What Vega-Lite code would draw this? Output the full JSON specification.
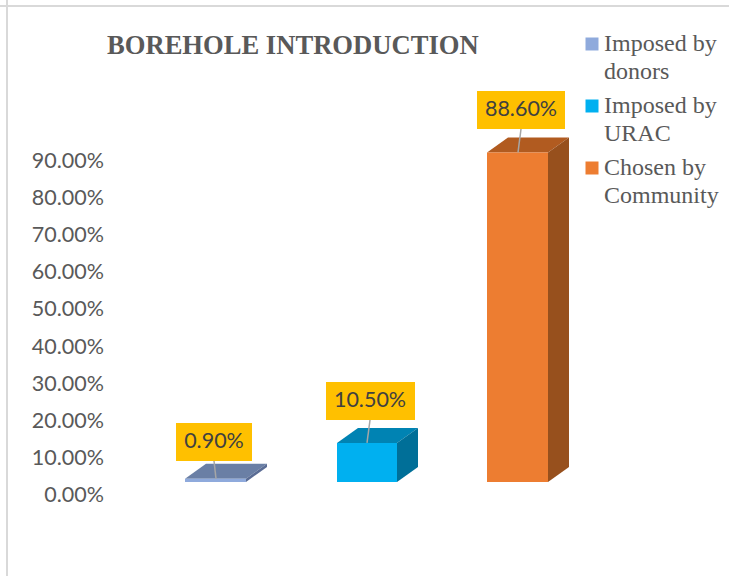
{
"$schema":"https://vega.github.io/schema/vega-lite/v6.json",
"width":729,"height":576,"autosize":{"type":"none"},"padding":0,"background":"white",
"title":{"text":"BOREHOLE INTRODUCTION","anchor":"start","frame":"group","dx":107,"offset":-82,"baseline":"alphabetic","font":"Liberation Serif","fontSize":26.6,"fontWeight":"bold","color":"#595959"},
"config":{"view":{"stroke":null},"style":{"guide-label":{"lineHeight":28}}},
"datasets":{
"bars":[
{"series":"Imposed by|donors","left":185,"right":246,"value":0.009,"boxLeft":176,"boxRight":252,"boxLow":0.0565,"boxHigh":0.1586,"boxMid":0.1075,"center":214,"lineFromX":214,"lineToX":216,"label":"0.90%"},
{"series":"Imposed by|URAC","left":337,"right":397,"value":0.105,"boxLeft":326,"boxRight":415,"boxLow":0.1667,"boxHigh":0.269,"boxMid":0.2178,"center":370,"lineFromX":370,"lineToX":367,"label":"10.50%"},
{"series":"Chosen by|Community","left":487,"right":548,"value":0.886,"boxLeft":477,"boxRight":565,"boxLow":0.949,"boxHigh":1.051,"boxMid":1.0,"center":521,"lineFromX":521,"lineToX":518,"label":"88.60%"}
],
"faces":[
{"face":"donors top","x":185,"low":0.009,"high":0.009},{"face":"donors top","x":206,"low":0.009,"high":0.0493},{"face":"donors top","x":246,"low":0.009,"high":0.0493},{"face":"donors top","x":267,"low":0.0493,"high":0.0493},
{"face":"donors side","x":246,"low":0,"high":0.009},{"face":"donors side","x":267,"low":0.0403,"high":0.0493},
{"face":"URAC top","x":337,"low":0.105,"high":0.105},{"face":"URAC top","x":358,"low":0.105,"high":0.1453},{"face":"URAC top","x":397,"low":0.105,"high":0.1453},{"face":"URAC top","x":418,"low":0.1453,"high":0.1453},
{"face":"URAC side","x":397,"low":0,"high":0.105},{"face":"URAC side","x":418,"low":0.0403,"high":0.1453},
{"face":"Community top","x":487,"low":0.886,"high":0.886},{"face":"Community top","x":508,"low":0.886,"high":0.9263},{"face":"Community top","x":548,"low":0.886,"high":0.9263},{"face":"Community top","x":569,"low":0.9263,"high":0.9263},
{"face":"Community side","x":548,"low":0,"high":0.886},{"face":"Community side","x":569,"low":0.0403,"high":0.9263}
]},
"data":{"name":"bars"},
"layer":[
{"mark":{"type":"rule","stroke":"#d9d9d9","strokeWidth":2},"data":{"values":[{"edge":7}]},"encoding":{"x":{"field":"edge","type":"quantitative","scale":{"domain":[0,729],"nice":false,"zero":false},"axis":null}}},
{"mark":{"type":"rule","stroke":"#d9d9d9","strokeWidth":2},"data":{"values":[{"edge":1.2796}]},"encoding":{"y":{"field":"edge","type":"quantitative"}}},
{"mark":{"type":"area","stroke":null},"data":{"name":"faces"},"encoding":{
"x":{"field":"x","type":"quantitative"},
"y":{"field":"low","type":"quantitative","stack":null},
"y2":{"field":"high"},
"fill":{"field":"face","type":"nominal","legend":null,"scale":{"domain":["donors top","donors side","URAC top","URAC side","Community top","Community side"],"range":["#6a7fa5","#5a6c94","#0083b3","#006f98","#b15b20","#97501d"]}}}},
{"mark":{"type":"bar"},"encoding":{
"x":{"field":"left","type":"quantitative"},
"x2":{"field":"right"},
"y":{"field":"value","type":"quantitative","stack":null,"scale":{"domain":[-0.2527,1.2957],"nice":false,"zero":false},
"axis":{"title":null,"values":[0,0.1,0.2,0.3,0.4,0.5,0.6,0.7,0.8,0.9],"format":".2%","domain":false,"ticks":false,"grid":false,"labelPadding":-103.5,"labelOffset":14,"labelFont":"Lato","labelFontSize":21.5,"labelColor":"#595959","labelBound":false,"labelOverlap":false,"labelFlush":false}},
"y2":{"datum":0},
"color":{"field":"series","type":"nominal","sort":null,"scale":{"domain":["Imposed by|donors","Imposed by|URAC","Chosen by|Community"],"range":["#8faadc","#00b0f0","#ed7d31"]},
"legend":{"title":null,"orient":"none","legendX":580,"legendY":32,"labelExpr":"split(datum.label,'|')","labelFont":"Liberation Serif","labelFontSize":24,"labelColor":"#595959","labelLimit":200,"symbolType":"square","symbolSize":169,"symbolStrokeWidth":0,"labelOffset":0,"rowPadding":10}}}},
{"mark":{"type":"bar"},"encoding":{"x":{"field":"boxLeft","type":"quantitative"},"x2":{"field":"boxRight"},"y":{"field":"boxLow","type":"quantitative","stack":null},"y2":{"field":"boxHigh"},"color":{"value":"#ffc000"}}},
{"mark":{"type":"rule","stroke":"#a6a6a6","strokeWidth":1.5},"encoding":{"x":{"field":"lineFromX","type":"quantitative"},"x2":{"field":"lineToX"},"y":{"field":"boxLow","type":"quantitative"},"y2":{"field":"value"}}},
{"mark":{"type":"text","font":"Lato","fontSize":21.5,"color":"#404040","baseline":"middle","align":"center"},"encoding":{"x":{"field":"center","type":"quantitative"},"y":{"field":"boxMid","type":"quantitative"},"text":{"field":"label"}}}
]
}
